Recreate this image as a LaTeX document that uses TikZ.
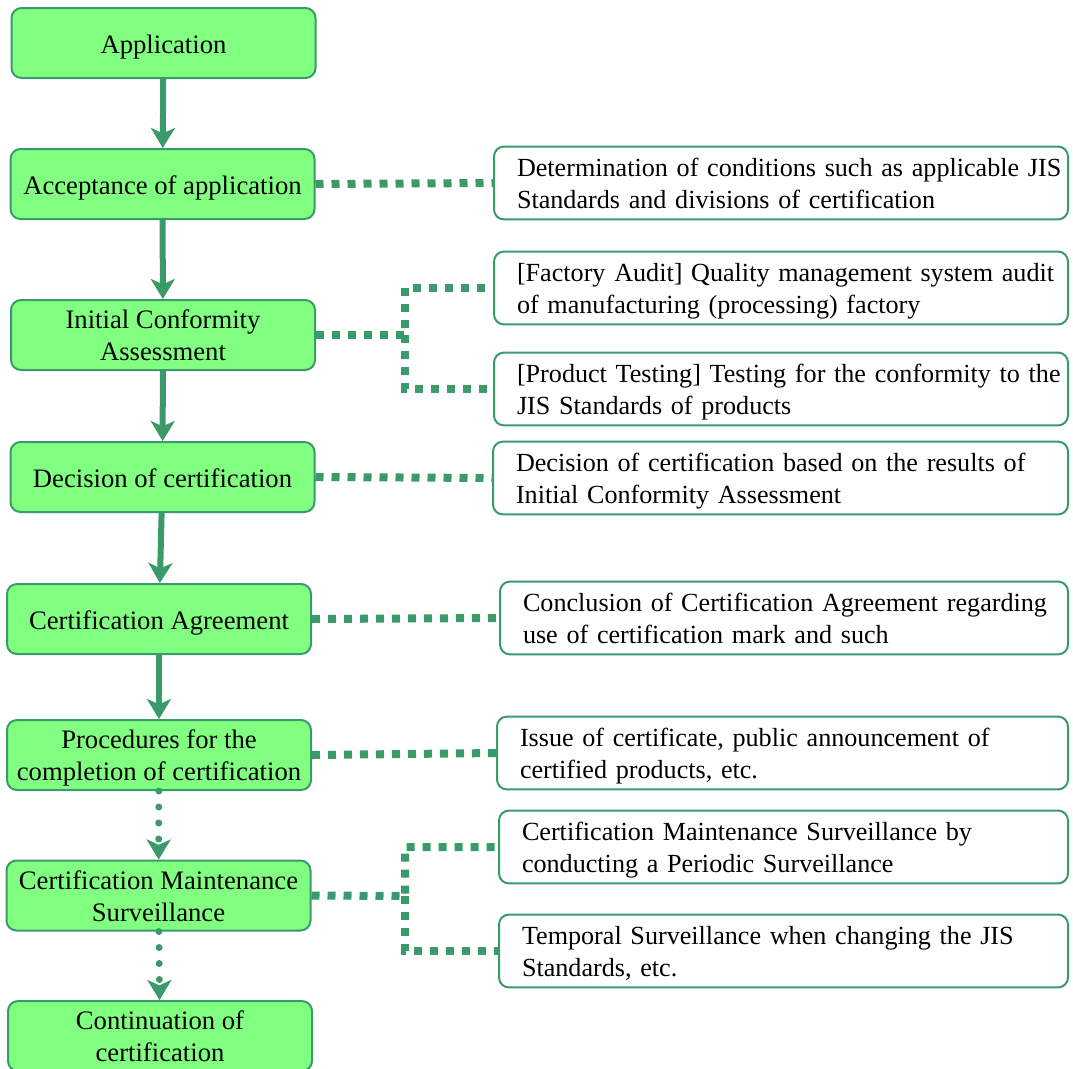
\documentclass[tikz,border=0pt]{standalone}
\usepackage{fontspec}
\setmainfont{Liberation Serif}
\usetikzlibrary{arrows.meta}
\definecolor{boxgreen}{RGB}{128,255,128}
\definecolor{linegreen}{RGB}{58,154,106}

\begin{document}
\begin{tikzpicture}[x=0.75pt, y=-0.75pt]

      \tikzset{stepbox/.style={draw=linegreen, fill=boxgreen, rounded corners=7.5pt, line width=1.5pt, minimum width=228pt, minimum height=52.5pt, align=center, inner sep=2pt, text height=20pt, text depth=3.8pt, font=\fontsize{20}{24}\selectfont},
               twolines/.style={text height=43.4pt, text depth=4.6pt},
               detailbox/.style={draw=linegreen, fill=white, rounded corners=7.5pt, line width=1.5pt, minimum height=54pt, align=left, inner xsep=2pt, text width=#1, execute at begin node={\leftskip=15.25pt}, text height=19.4pt, text depth=28.6pt, font=\fontsize{19.6}{24}\selectfont},
               flow/.style={draw=linegreen, line width=4.5pt, -{Stealth[length=15pt, width=18pt, inset=4pt]}},
               dotflow/.style={draw=linegreen, line width=5.25pt, line cap=round, dash pattern=on 0pt off 12pt, -{Stealth[length=15pt, width=18pt, inset=4pt]}},
               link/.style={draw=linegreen, line width=6pt, dash pattern=on 6pt off 6pt}}
      \path[use as bounding box, clip] (0,0) rectangle (1073,1068);
%% Steps
      	\node[stepbox] (s1) at (163.5,43) {Application};
      	\node[stepbox] (s2) at (162.5,184) {Acceptance of application};
      	\node[stepbox, twolines] (s3) at (163,335) {Initial Conformity\\Assessment};
      	\node[stepbox] (s4) at (162.5,477) {Decision of certification};
      	\node[stepbox] (s5) at (159,619) {Certification Agreement};
      	\node[stepbox, twolines] (s6) at (159,755) {Procedures for the\\completion of certification};
      	\node[stepbox, twolines] (s7) at (158.5,895.5) {Certification Maintenance\\Surveillance};
      	\node[stepbox, twolines] (s8) at (160,1036) {Continuation of\\certification};
%% Details
      	\node[detailbox=426.5pt] (r1) at (781,183) {Determination of conditions such as applicable JIS\\Standards and divisions of certification};
      	\node[detailbox=426.5pt] (r2) at (781,288) {[Factory Audit] Quality management system audit\\of manufacturing (processing) factory};
      	\node[detailbox=426.5pt] (r3) at (781,389) {[Product Testing] Testing for the conformity to the\\JIS Standards of products};
      	\node[detailbox=427.25pt] (r4) at (780.5,478) {Decision of certification based on the results of\\Initial Conformity Assessment};
      	\node[detailbox=422pt] (r5) at (784,618) {Conclusion of Certification Agreement regarding\\use of certification mark and such};
      	\node[detailbox=424.25pt] (r6) at (782.5,753) {Issue of certificate, public announcement of\\certified products, etc.};
      	\node[detailbox=422.75pt] (r7) at (783.5,847) {Certification Maintenance Surveillance by\\conducting a Periodic Surveillance};
      	\node[detailbox=422.75pt] (r8) at (783.5,951) {Temporal Surveillance when changing the JIS\\Standards, etc.};
%Arrows
		\path (s1) edge[flow] (s2);
		\path (s2) edge[flow] (s3);
		\path (s3) edge[flow] (s4);
		\path (s4) edge[flow] (s5);
		\path (s5) edge[flow] (s6);
		\path (s6) edge[dotflow] (s7);
		\path (s7) edge[dotflow] (s8);
%Links
		\coordinate (j3) at (405,335);
		\coordinate (j7) at (405,896);
		\path (s2.east) edge[link] (r1.west);
		\draw[link] (s3.east) -- (j3) |- (r2.west);
		\draw[link] (j3) |- (r3.west);
		\path (s4.east) edge[link] (r4.west);
		\path (s5.east) edge[link] (r5.west);
		\path (s6.east) edge[link] (r6.west);
		\draw[link] (s7.east) -- (j7) |- (r7.west);
		\draw[link] (j7) |- (r8.west);

	\end{tikzpicture}
\end{document}
